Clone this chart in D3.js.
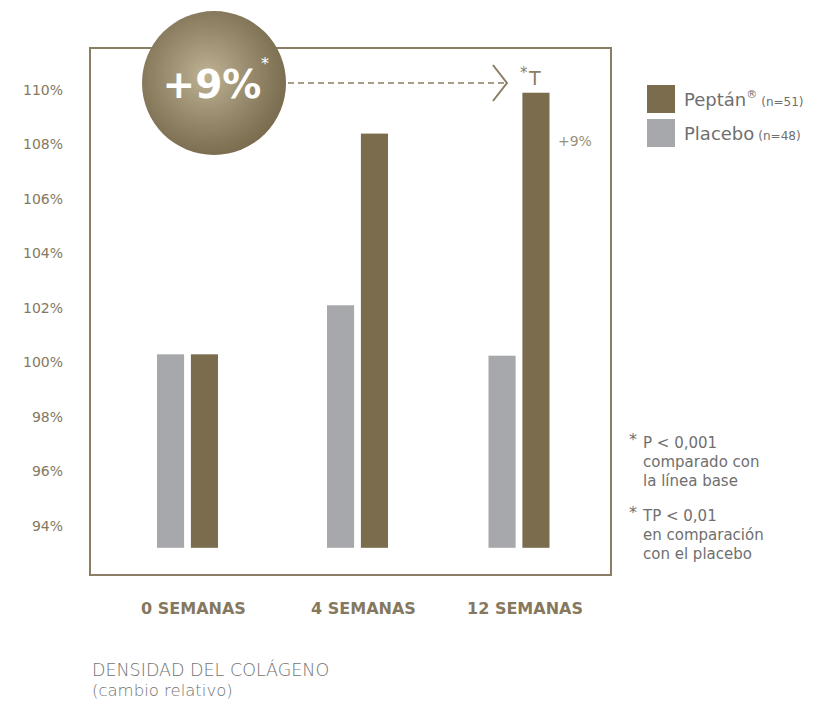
<!DOCTYPE html>
<html><head><meta charset="utf-8">
<script src="https://cdn.jsdelivr.net/npm/d3@7"></script>
<style>
html,body{margin:0;padding:0;background:#fff;}
svg{display:block;font-family:"DejaVu Sans",sans-serif;}
</style></head>
<body>
<svg id="chart" width="840" height="707"></svg>
<script>
// ---- data ----
const categories = ["0 SEMANAS", "4 SEMANAS", "12 SEMANAS"];
const seriesNames = ["Placebo", "Peptán"];
const placeboValues = [100.3, 102.1, 100.25];
const peptanValues = [100.3, 108.4, 109.9];
const yTicks = [94, 96, 98, 100, 102, 104, 106, 108, 110];
const baseValue = 93.2;
const highlightLabel = "+9%";
const legendLabels = [["Peptán", "(n=51)"], ["Placebo", "(n=48)"]];
const footnote1 = ["P < 0,001", "comparado con", "la línea base"];
const footnote2 = ["TP < 0,01", "en comparación", "con el placebo"];
const titleLines = ["DENSIDAD DEL COLÁGENO", "(cambio relativo)"];

// ---- styles ----
const cPeptan = "#7a6c4c";
const cPlacebo = "#a7a8ab";
const cFrame = "#8b7d63";
const cTick = "#857861";
const cGray = "#6f6f6f";
const font = "'DejaVu Sans',sans-serif";

const svg = d3.select("#chart");
const box = {l: 90, r: 611, t: 48, b: 575};

const y = d3.scaleLinear().domain([94, 110]).range([526, 90]);
const x = d3.scaleOrdinal().domain(categories).range([187.5, 357.5, 519]);
const xs = d3.scaleBand().domain(seriesNames).range([-30.5, 30.5]).paddingInner(0.2);

// frame
svg.append("rect").attr("x", box.l).attr("y", box.t)
  .attr("width", box.r - box.l).attr("height", box.b - box.t)
  .attr("fill", "none").attr("stroke", cFrame).attr("stroke-width", 2);

// y axis
const yAxis = d3.axisLeft(y).tickValues(yTicks).tickFormat(d => d + "%").tickSize(0).tickPadding(27);
const gy = svg.append("g").attr("transform", `translate(${box.l},0)`).call(yAxis);
gy.select(".domain").remove();
gy.selectAll("text").attr("fill", cTick).style("font-size", "14px").style("font-family", font);

// bars
const rows = categories.map((c, i) => ({c, vals: [
  {s: "Placebo", v: placeboValues[i]}, {s: "Peptán", v: peptanValues[i]}]}));
const groups = svg.append("g").selectAll("g").data(rows).join("g")
  .attr("transform", d => `translate(${x(d.c)},0)`);
groups.selectAll("rect").data(d => d.vals).join("rect")
  .attr("x", d => xs(d.s)).attr("width", xs.bandwidth())
  .attr("y", d => y(d.v)).attr("height", d => y(baseValue) - y(d.v))
  .attr("fill", d => d.s === "Peptán" ? cPeptan : cPlacebo);

// x labels
svg.append("g").selectAll("text").data(categories).join("text")
  .attr("x", d => x(d) + 6).attr("y", box.b + 39).attr("text-anchor", "middle")
  .attr("fill", "#85785e").style("font-size", "16px")
  .style("font-family", font).style("font-weight", 700).text(d => d);

// highlight circle
const defs = svg.append("defs");
const grad = defs.append("radialGradient").attr("id", "cg").attr("cx", "45%").attr("cy", "45%").attr("r", "60%");
grad.append("stop").attr("offset", "0%").attr("stop-color", "#bfb394");
grad.append("stop").attr("offset", "55%").attr("stop-color", "#94876a");
grad.append("stop").attr("offset", "100%").attr("stop-color", "#76684a");
const cx = 214, cy = 83, cr = 72;
const targetX = x(categories[2]) + xs("Peptán") + xs.bandwidth() / 2;

// dashed line + chevron
svg.append("line").attr("x1", cx + cr + 2).attr("x2", targetX - 30).attr("y1", cy).attr("y2", cy)
  .attr("stroke", cFrame).attr("stroke-width", 1.5).attr("stroke-dasharray", "6,4");
svg.append("path")
  .attr("d", `M${targetX - 43},${cy - 18} L${targetX - 29},${cy} L${targetX - 43},${cy + 18}`)
  .attr("fill", "none").attr("stroke", cFrame).attr("stroke-width", 2);

svg.append("circle").attr("cx", cx).attr("cy", cy).attr("r", cr).attr("fill", "url(#cg)");
svg.append("text").attr("x", cx - 2).attr("y", cy + 15).attr("text-anchor", "middle")
  .attr("fill", "#fff").style("font-size", "39px").style("font-weight", 700)
  .style("font-family", font).text(highlightLabel);
svg.append("text").attr("x", cx + 51).attr("y", cy - 14).attr("text-anchor", "middle")
  .attr("fill", "#fff").style("font-size", "16px").text("*");

// *T marker
svg.append("text").attr("x", targetX - 16).attr("y", 78).attr("fill", cFrame)
  .style("font-size", "15px").text("*");
svg.append("text").attr("x", targetX - 7).attr("y", 85).attr("fill", cFrame)
  .style("font-size", "19px").text("T");

// +9% small label
svg.append("text").attr("x", targetX + 22).attr("y", y(peptanValues[2]) + 53).attr("fill", "#9a8f79")
  .style("font-size", "14px").text(highlightLabel);

// legend
const legend = svg.append("g").attr("transform", "translate(647,85)");
const lg = legend.selectAll("g").data(legendLabels).join("g")
  .attr("transform", (d, i) => `translate(0,${i * 34})`);
lg.append("rect").attr("width", 28).attr("height", 28)
  .attr("fill", (d, i) => i === 0 ? cPeptan : cPlacebo);
const lt = lg.append("text").attr("x", 37).attr("y", 21).attr("fill", cGray)
  .style("font-size", "18px");
lt.append("tspan").text(d => d[0]);
lt.filter((d, i) => i === 0).append("tspan").attr("dy", -8).style("font-size", "11px").text("®");
lt.append("tspan").attr("dx", 4).attr("dy", (d, i) => i === 0 ? 8 : 0).style("font-size", "12px").text(d => d[1]);

// footnotes
function footnote(lines, y0) {
  svg.append("text").attr("x", 629).attr("y", y0 + 2).attr("fill", cGray).style("font-size", "16px").text("*");
  svg.append("g").selectAll("text").data(lines).join("text")
    .attr("x", 643).attr("y", (d, i) => y0 + 5 + i * 19).attr("fill", cGray)
    .style("font-size", "15px").text(d => d);
}
footnote(footnote1, 443);
footnote(footnote2, 516);

// title
svg.append("g").selectAll("text").data(titleLines).join("text")
  .attr("x", 92).attr("y", (d, i) => 676 + i * 20).attr("fill", "#727272")
  .style("font-size", (d, i) => i === 0 ? "17.5px" : "16.5px").style("font-weight", 200)
  .text(d => d);
</script>
</body></html>
